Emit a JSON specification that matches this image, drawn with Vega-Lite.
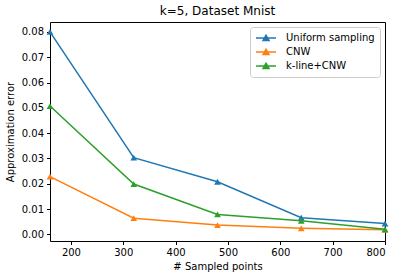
{
  "$schema": "https://vega.github.io/schema/vega-lite/v6.json",
  "width": 335,
  "height": 219,
  "autosize": {"type": "none"},
  "padding": {"left": 50, "top": 22, "right": 16, "bottom": 37},
  "background": "white",
  "title": {"text": "k=5, Dataset Mnist", "fontSize": 12, "fontWeight": "normal", "font": "DejaVu Sans", "color": "black", "offset": 4},
  "data": {"values": [
    {"n": 160, "method": "Uniform sampling", "err": 0.0800},
    {"n": 320, "method": "Uniform sampling", "err": 0.0303},
    {"n": 480, "method": "Uniform sampling", "err": 0.0208},
    {"n": 640, "method": "Uniform sampling", "err": 0.0066},
    {"n": 800, "method": "Uniform sampling", "err": 0.0043},
    {"n": 160, "method": "CNW", "err": 0.0228},
    {"n": 320, "method": "CNW", "err": 0.0064},
    {"n": 480, "method": "CNW", "err": 0.0037},
    {"n": 640, "method": "CNW", "err": 0.0024},
    {"n": 800, "method": "CNW", "err": 0.0018},
    {"n": 160, "method": "k-line+CNW", "err": 0.0507},
    {"n": 320, "method": "k-line+CNW", "err": 0.0199},
    {"n": 480, "method": "k-line+CNW", "err": 0.0079},
    {"n": 640, "method": "k-line+CNW", "err": 0.0054},
    {"n": 800, "method": "k-line+CNW", "err": 0.0020}
  ]},
  "mark": {"type": "line", "strokeWidth": 1.5, "point": {"shape": "triangle-up", "size": 45, "filled": true, "opacity": 1}},
  "encoding": {
    "x": {"field": "n", "type": "quantitative", "title": "# Sampled points",
      "scale": {"domain": [160, 800], "nice": false, "zero": false},
      "axis": {"values": [200, 300, 400, 500, 600, 700, 800], "format": "d"}},
    "y": {"field": "err", "type": "quantitative", "title": "Approximation error",
      "scale": {"domain": [-0.0026, 0.0839], "nice": false, "zero": false},
      "axis": {"values": [0, 0.01, 0.02, 0.03, 0.04, 0.05, 0.06, 0.07, 0.08], "format": ".2f"}},
    "color": {"field": "method", "type": "nominal",
      "scale": {"domain": ["Uniform sampling", "CNW", "k-line+CNW"], "range": ["#1f77b4", "#ff7f0e", "#2ca02c"]},
      "legend": {"title": null, "orient": "top-right", "offset": 5,
        "symbolType": "M-2,0H2M-0.6,0.5L0,-0.55L0.6,0.5Z", "symbolSize": 100, "symbolStrokeWidth": 1.5,
        "fillColor": "white", "strokeColor": "#cccccc", "cornerRadius": 3, "padding": 5, "labelFontSize": 10,
        "labelFont": "DejaVu Sans", "labelColor": "black", "rowPadding": 2, "labelOffset": 14,
        "symbolOffset": 5}}
  },
  "config": {
    "view": {"stroke": "black", "strokeWidth": 1},
    "axis": {"grid": false, "domain": false, "tickColor": "black", "tickSize": 3.5, "labelFont": "DejaVu Sans",
      "labelFontSize": 10, "labelColor": "black", "titleFont": "DejaVu Sans", "titleFontSize": 10,
      "titleFontWeight": "normal", "titleColor": "black", "labelPadding": 3},
    "axisX": {"titlePadding": 4},
    "axisY": {"titlePadding": 6}
  }
}
